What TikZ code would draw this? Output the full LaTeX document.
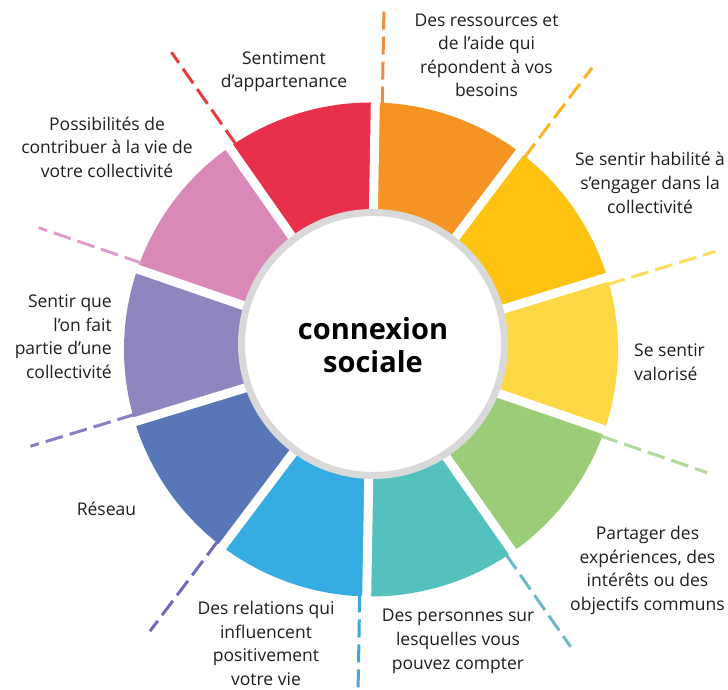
\documentclass[tikz,border=0pt]{standalone}
\usepackage{fontspec}
\setmainfont{Open Sans}
\usetikzlibrary{calc}
\definecolor{cred}{HTML}{E8304B}
\definecolor{corange}{HTML}{F59422}
\definecolor{camber}{HTML}{FEC210}
\definecolor{cyellow}{HTML}{FDD844}
\definecolor{cgreen}{HTML}{9BCC78}
\definecolor{cteal}{HTML}{53C2BF}
\definecolor{cblue}{HTML}{36ADE2}
\definecolor{cdblue}{HTML}{5877B9}
\definecolor{clav}{HTML}{8F85BF}
\definecolor{cpink}{HTML}{DA88B8}
\definecolor{dorange}{HTML}{F08A3C}
\definecolor{damber}{HTML}{FBB424}
\definecolor{dyellow}{HTML}{FDDD5C}
\definecolor{dgreen}{HTML}{B0D99A}
\definecolor{dteal}{HTML}{6BB8C6}
\definecolor{dblue}{HTML}{3BA9E0}
\definecolor{ddblue}{HTML}{6C6CB8}
\definecolor{dlav}{HTML}{8C7CC4}
\definecolor{dpink}{HTML}{E29BCB}
\definecolor{dred}{HTML}{E63C3C}
\definecolor{ringgray}{HTML}{D9D9D9}
\definecolor{txt}{HTML}{1E1E1E}
\begin{document}
\begin{tikzpicture}[x=1pt,y=1pt,
  lbl/.style={font=\fontsize{17.5}{23.6}\selectfont, text=txt, inner sep=0pt, align=center, anchor=north},
  dashline/.style={line width=3pt, dash pattern=on 18pt off 7pt},
  gapline/.style={white, line width=9pt},
  ringstyle/.style={draw=ringgray, line width=7pt, fill=white}]
\useasboundingbox (0,0) rectangle (728,690);
\clip (0,0) rectangle (728,690);
\coordinate (C) at (371,340.5);
\foreach \a/\c in {53/corange, 17/camber, -19/cyellow, -55/cgreen, -91/cteal, -127/cblue, -163/cdblue, -199/clav, -235/cpink, -271/cred} {
  \fill[\c] (C) -- ++(\a:247) arc[start angle=\a, end angle=\a+36, radius=247] -- cycle;
}
\foreach \a in {89,53,17,-19,-55,-91,-127,-163,-199,-235} {
  \draw[gapline] (C) -- ++(\a:252);
}
\foreach \a/\c/\r in {89/dorange/342, 53/damber/358, 17/dyellow/358, -19/dgreen/358, -55/dteal/358, -91/dblue/370, -127/ddblue/358, -163/dlav/354, -199/dpink/354, -235/dred/358} {
  \draw[dashline, \c] ($(C)+(\a:245)+(\a-90:7)$) -- ($(C)+(\a:\r)+(\a-90:7)$);
}
\node[ringstyle, circle, minimum size=263pt, inner sep=0pt] (hub) at (373,346) {};
\node[font=\fontsize{29}{31}\selectfont\bfseries, align=center, anchor=north, inner sep=0pt, text=black] (title) at (373,372.4) {\strut connexion\\sociale};
\node[lbl] (s1) at (284,642.6) {\strut Sentiment\\d’appartenance};
\node[lbl] (s2) at (486.5,680.6) {\strut Des ressources et\\de l’aide qui\\répondent à vos\\besoins};
\node[lbl] (s3) at (650,540.9) {\strut Se sentir habilité à\\s’engager dans la\\collectivité};
\node[lbl, anchor=north west, align=left] (s4) at (634,349.9) {\strut Se sentir\\valorisé};
\node[lbl] (s5) at (647.5,167.3) {\strut Partager des\\expériences, des\\intérêts ou des\\objectifs communs};
\node[lbl] (s6) at (458,84.9) {\strut Des personnes sur\\lesquelles vous\\pouvez compter};
\node[lbl] (s7) at (266,92) {\strut Des relations qui\\influencent\\positivement\\votre vie};
\node[lbl] (s8) at (106.5,191.6) {\strut Réseau};
\node[lbl, anchor=north east, align=right] (s9) at (112,399.3) {\strut Sentir que\\l’on fait\\partie d’une\\collectivité};
\node[lbl] (s10) at (107,576.6) {\strut Possibilités de\\contribuer à la vie de\\votre collectivité};
\end{tikzpicture}
\end{document}
